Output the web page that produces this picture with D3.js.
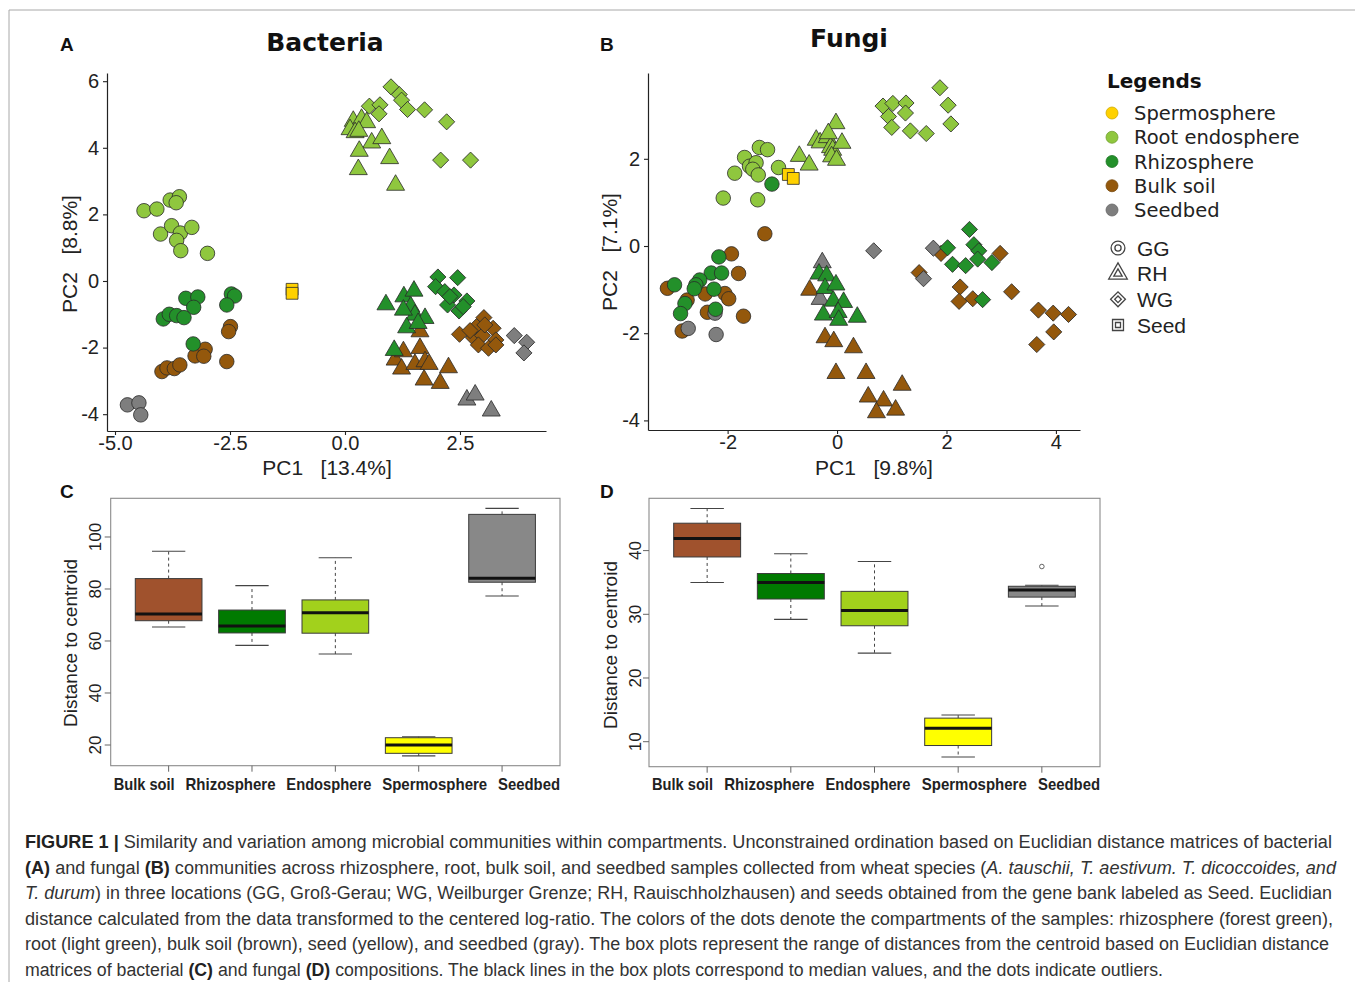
<!DOCTYPE html>
<html><head><meta charset="utf-8">
<script src="https://cdn.jsdelivr.net/npm/d3@7"></script>
<style>body{margin:0;background:#fff}svg{display:block}</style>
</head><body>
<svg id="fig" width="1355" height="982"></svg>
<script>
// ---------------- DATA ----------------
const compartments = ["Spermosphere","Root endosphere","Rhizosphere","Bulk soil","Seedbed"];
const sites = ["GG","RH","WG","Seed"];

// Panel A (Bacteria) PCA coordinates [PC1, PC2]
const bacSperm_Seed = [[-1.15,-0.25],[-1.15,-0.37]];
const bacRoot_GG = [[-4.37,2.11],[-4.09,2.16],[-3.80,2.43],[-3.60,2.53],[-3.67,2.35],[-4.01,1.41],[-3.77,1.66],[-3.58,1.44],[-3.66,1.22],[-3.33,1.61],[-3.57,0.91],[-2.99,0.83]];
const bacRhizo_GG = [[-3.46,-0.52],[-3.20,-0.48],[-3.29,-0.79],[-3.95,-1.14],[-3.82,-1.00],[-3.66,-1.04],[-3.50,-1.10],[-2.47,-0.39],[-2.40,-0.45],[-2.57,-0.72],[-3.30,-1.89]];
const bacBulk_GG = [[-2.49,-1.37],[-2.53,-1.52],[-3.98,-2.72],[-3.87,-2.61],[-3.71,-2.63],[-3.59,-2.52],[-3.26,-2.25],[-3.04,-2.05],[-3.07,-2.26],[-2.57,-2.42]];
const bacSeedbed_GG = [[-4.73,-3.72],[-4.48,-3.66],[-4.44,-4.02]];
const bacRoot_RH = [[0.18,4.80],[0.36,4.86],[0.47,4.76],[0.11,4.55],[0.22,4.46],[0.30,4.50],[0.58,4.15],[0.80,4.28],[0.31,3.90],[0.97,3.68],[0.29,3.35],[1.10,2.88]];
const bacRhizo_RH = [[0.89,-0.71],[1.28,-0.47],[1.50,-0.30],[1.43,-0.77],[1.52,-1.02],[1.74,-1.12],[1.34,-1.40],[1.59,-1.27],[1.07,-2.08],[1.27,-0.87]];
const bacBulk_RH = [[1.63,-1.52],[1.09,-2.37],[1.27,-2.12],[1.23,-2.64],[1.52,-2.50],[1.63,-2.02],[1.74,-2.42],[1.83,-2.50],[2.25,-2.60],[1.72,-2.97],[2.07,-3.07]];
const bacSeedbed_RH = [[2.65,-3.57],[2.83,-3.42],[3.18,-3.90]];
const bacRoot_WG = [[1.00,5.83],[1.18,5.60],[1.23,5.43],[1.36,5.15],[1.73,5.14],[2.21,4.78],[0.53,5.25],[0.76,5.29],[0.74,5.02],[2.08,3.63],[2.73,3.63]];
const bacRhizo_WG = [[2.02,0.12],[2.45,0.10],[1.97,-0.17],[2.17,-0.32],[2.37,-0.42],[2.23,-0.72],[2.48,-0.90],[2.65,-0.60],[2.28,-0.47],[2.57,-0.77]];
const bacBulk_WG = [[3.02,-1.10],[2.49,-1.60],[2.86,-1.37],[3.22,-1.42],[2.79,-1.70],[2.99,-1.64],[3.28,-1.77],[2.90,-1.92],[3.12,-2.02],[3.28,-1.92],[3.04,-1.32],[2.72,-1.49]];
const bacSeedbed_WG = [[3.68,-1.64],[3.95,-1.84],[3.89,-2.16]];

// Panel B (Fungi) PCA coordinates [PC1, PC2]
const funSperm_Seed = [[-0.89,1.64],[-0.80,1.55]];
const funRoot_GG = [[-1.42,2.26],[-1.27,2.21],[-1.69,2.03],[-1.60,1.83],[-1.48,1.91],[-1.54,1.76],[-1.44,1.63],[-1.87,1.67],[-1.07,1.80],[-2.08,1.10],[-1.45,1.06]];
const funRhizo_GG = [[-1.19,1.42],[-2.16,-0.25],[-2.30,-0.62],[-2.11,-0.62],[-2.51,-0.78],[-2.58,-0.89],[-2.61,-0.98],[-2.25,-0.99],[-2.97,-0.89],[-2.78,-1.32],[-2.86,-1.55],[-2.22,-1.45]];
const funBulk_GG = [[-1.32,0.28],[-1.93,-0.18],[-1.80,-0.63],[-3.10,-0.97],[-2.74,-1.24],[-2.41,-1.10],[-2.05,-1.09],[-1.98,-1.21],[-2.37,-1.52],[-1.71,-1.61],[-2.83,-1.95]];
const funSeedbed_GG = [[-2.72,-1.89],[-2.23,-1.54],[-2.21,-2.03]];
const funRoot_RH = [[-0.69,2.06],[-0.51,1.86],[-0.38,2.43],[-0.31,2.37],[-0.18,2.49],[-0.02,2.81],[-0.12,2.26],[-0.08,2.20],[0.09,2.36],[-0.10,2.05],[-0.01,1.97],[-0.16,2.58]];
const funRhizo_RH = [[-0.33,-0.64],[-0.19,-0.68],[-0.22,-0.97],[-0.02,-0.89],[-0.07,-1.26],[0.12,-1.29],[-0.25,-1.58],[0.02,-1.52],[0.03,-1.70],[0.37,-1.63]];
const funBulk_RH = [[-0.50,-1.01],[-0.22,-2.10],[-0.06,-2.19],[0.30,-2.33],[-0.02,-2.92],[0.53,-2.92],[0.57,-3.46],[0.85,-3.55],[0.72,-3.82],[1.07,-3.76],[1.19,-3.19]];
const funSeedbed_RH = [[-0.27,-0.38],[-0.31,-1.22]];
const funRoot_WG = [[0.84,3.21],[1.02,3.27],[1.26,3.28],[1.25,3.05],[0.94,2.97],[1.00,2.72],[1.34,2.64],[1.63,2.58],[1.88,3.63],[2.03,3.23],[2.08,2.80]];
const funRhizo_WG = [[2.42,0.38],[2.02,-0.04],[2.50,0.03],[2.59,-0.11],[2.57,-0.30],[2.11,-0.42],[2.35,-0.45],[2.83,-0.38],[2.66,-1.23]];
const funBulk_WG = [[1.90,-0.17],[2.98,-0.17],[1.50,-0.61],[2.25,-0.94],[2.23,-1.27],[2.48,-1.21],[3.19,-1.05],[3.68,-1.47],[3.95,-1.54],[4.23,-1.57],[3.96,-1.97],[3.65,-2.26]];
const funSeedbed_WG = [[0.67,-0.11],[1.76,-0.05],[1.58,-0.75]];

// Axis ticks
const bacXTicks = [-5.0,-2.5,0.0,2.5];
const bacYTicks = [-4,-2,0,2,4,6];
const funXTicks = [-2,0,2,4];
const funYTicks = [-4,-2,0,2];

// Box plots (distance to centroid)
const boxCats = ["Bulk soil","Rhizosphere","Endosphere","Spermosphere","Seedbed"];
const bacLo  = [65.4, 58.3, 55.0, 15.8, 77.3];
const bacQ1  = [67.8, 63.1, 63.0, 16.8, 82.6];
const bacMed = [70.4, 65.8, 70.9, 20.0, 84.1];
const bacQ3  = [84.0, 71.9, 75.8, 22.8, 108.7];
const bacHi  = [94.5, 81.3, 92.0, 23.2, 111.0];
const bacOut = [];
const funLo  = [35.0, 29.2, 23.9, 7.6, 31.3];
const funQ1  = [39.0, 32.4, 28.2, 9.4, 32.7];
const funMed = [41.9, 35.0, 30.6, 12.1, 33.8];
const funQ3  = [44.3, 36.4, 33.6, 13.7, 34.4];
const funHi  = [46.6, 39.5, 38.3, 14.2, 34.55];
const funOut = [["Seedbed", 37.5]];
const bacBoxTicks = [20,40,60,80,100];
const funBoxTicks = [10,20,30,40];

// ---------------- STYLE ----------------
const colorBy = {"Spermosphere":"#FFD100","Root endosphere":"#8FC73E","Rhizosphere":"#23902A","Bulk soil":"#94580C","Seedbed":"#7E7E7E"};
const boxColor = {"Bulk soil":"#A0522D","Rhizosphere":"#007A00","Endosphere":"#A2D11C","Spermosphere":"#FFFF00","Seedbed":"#888888"};
const shapeBy = {GG:d3.symbolCircle, RH:d3.symbolTriangle, WG:d3.symbolSquare, Seed:d3.symbolSquare};
const sizeBy = {GG:165, RH:140, WG:130, Seed:140};
const catLabelW = {"Bulk soil":61, "Rhizosphere":90, "Endosphere":85, "Spermosphere":105, "Seedbed":62};
const SANS = "'Liberation Sans', Arial, sans-serif";
const NARROW = "'Liberation Sans Narrow', 'Liberation Sans', Arial, sans-serif";
const VERD = "'DejaVu Sans', Verdana, sans-serif";

const svg = d3.select("#fig");

// outer frame
svg.append("path").attr("d","M9,982V10H1355").attr("fill","none").attr("stroke","#a8a8a8").attr("stroke-width",1);

function panelLetter(t,x,y){
  svg.append("text").attr("x",x).attr("y",y).text(t)
    .attr("font-family",SANS).attr("font-weight","bold").attr("font-size",19).attr("fill","#111");
}
panelLetter("A",60,51); panelLetter("B",600,51); panelLetter("C",60,498); panelLetter("D",600,498);

function scatterPanel(opts){
  const {xs, ys, xt, yt, xfmt, groups, xlab, ylab, ylabX, ylabY, xlabX, title, titleX, titleY} = opts;
  const g = svg.append("g");
  const ax = g.append("g").attr("transform",`translate(0,${ys.range()[0]})`)
    .call(d3.axisBottom(xs).tickValues(xt).tickFormat(xfmt).tickSize(4).tickSizeOuter(0).tickPadding(1));
  const ay = g.append("g").attr("transform",`translate(${xs.range()[0]},0)`)
    .call(d3.axisLeft(ys).tickValues(yt).tickFormat(d=>String(d)).tickSize(4).tickSizeOuter(0).tickPadding(4));
  [ax,ay].forEach(a=>{
    a.select(".domain").attr("stroke","#222").attr("stroke-width",1.2);
    a.selectAll(".tick line").attr("stroke","#222").attr("stroke-width",1.1);
    a.selectAll(".tick text").attr("font-family",SANS).attr("font-size",20).attr("fill","#222");
  });
  groups.forEach(gr=>{
    g.append("g").selectAll("path").data(gr.pts).join("path")
      .attr("transform", d=>`translate(${xs(d[0])},${ys(d[1])})` + (gr.site==="WG"?" rotate(45)":""))
      .attr("d", d3.symbol(shapeBy[gr.site], sizeBy[gr.site]))
      .attr("fill", colorBy[gr.comp]).attr("stroke","#2a2a2a").attr("stroke-width",0.8);
  });
  g.append("text").attr("x",xlabX).attr("y",475).attr("text-anchor","middle")
    .style("white-space","pre").attr("font-family",SANS).attr("font-size",21).attr("fill","#222").text(xlab);
  g.append("text").attr("transform",`translate(${ylabX},${ylabY}) rotate(-90)`).attr("text-anchor","middle")
    .style("white-space","pre").attr("font-family",SANS).attr("font-size",21).attr("fill","#222").text(ylab);
  g.append("text").attr("x",titleX).attr("y",titleY).attr("text-anchor","middle")
    .attr("font-family",VERD).attr("font-weight","bold").attr("font-size",25).attr("fill","#111").text(title);
}

const xA = d3.scaleLinear().domain([-5.174, 4.37]).range([107, 546]);
const yA = d3.scaleLinear().domain([-4.505, 6.246]).range([431, 73]);
scatterPanel({xs:xA, ys:yA, xt:bacXTicks, yt:bacYTicks, xfmt:d=>d.toFixed(1),
  groups:[
    {pts:bacBulk_GG, comp:"Bulk soil", site:"GG"},
    {pts:bacBulk_RH, comp:"Bulk soil", site:"RH"},
    {pts:bacBulk_WG, comp:"Bulk soil", site:"WG"},
    {pts:bacSeedbed_GG, comp:"Seedbed", site:"GG"},
    {pts:bacSeedbed_RH, comp:"Seedbed", site:"RH"},
    {pts:bacSeedbed_WG, comp:"Seedbed", site:"WG"},
    {pts:bacRhizo_GG, comp:"Rhizosphere", site:"GG"},
    {pts:bacRhizo_RH, comp:"Rhizosphere", site:"RH"},
    {pts:bacRhizo_WG, comp:"Rhizosphere", site:"WG"},
    {pts:bacRoot_GG, comp:"Root endosphere", site:"GG"},
    {pts:bacRoot_RH, comp:"Root endosphere", site:"RH"},
    {pts:bacRoot_WG, comp:"Root endosphere", site:"WG"},
    {pts:bacSperm_Seed, comp:"Spermosphere", site:"Seed"}
  ],
  xlab:"PC1   [13.4%]", xlabX:327, ylab:"PC2   [8.8%]", ylabX:77, ylabY:254,
  title:"Bacteria", titleX:325, titleY:51});

const xB = d3.scaleLinear().domain([-3.455, 4.44]).range([648, 1080]);
const yB = d3.scaleLinear().domain([-4.22, 3.968]).range([430, 73]);
scatterPanel({xs:xB, ys:yB, xt:funXTicks, yt:funYTicks, xfmt:d=>String(d),
  groups:[
    {pts:funBulk_GG, comp:"Bulk soil", site:"GG"},
    {pts:funBulk_RH, comp:"Bulk soil", site:"RH"},
    {pts:funBulk_WG, comp:"Bulk soil", site:"WG"},
    {pts:funSeedbed_GG, comp:"Seedbed", site:"GG"},
    {pts:funSeedbed_RH, comp:"Seedbed", site:"RH"},
    {pts:funSeedbed_WG, comp:"Seedbed", site:"WG"},
    {pts:funRhizo_GG, comp:"Rhizosphere", site:"GG"},
    {pts:funRhizo_RH, comp:"Rhizosphere", site:"RH"},
    {pts:funRhizo_WG, comp:"Rhizosphere", site:"WG"},
    {pts:funRoot_GG, comp:"Root endosphere", site:"GG"},
    {pts:funRoot_RH, comp:"Root endosphere", site:"RH"},
    {pts:funRoot_WG, comp:"Root endosphere", site:"WG"},
    {pts:funSperm_Seed, comp:"Spermosphere", site:"Seed"}
  ],
  xlab:"PC1   [9.8%]", xlabX:874, ylab:"PC2   [7.1%]", ylabX:617, ylabY:252,
  title:"Fungi", titleX:849, titleY:47});

// Legend
const lg = svg.append("g");
lg.append("text").attr("x",1107).attr("y",88).text("Legends")
  .attr("font-family",VERD).attr("font-weight","bold").attr("font-size",20).attr("fill","#111");
const legY = d3.scalePoint().domain(compartments).range([113,210]);
compartments.forEach(c=>{
  lg.append("circle").attr("cx",1112).attr("cy",legY(c)).attr("r",6)
    .attr("fill",colorBy[c]).attr("stroke",d3.color(colorBy[c]).darker(0.6)).attr("stroke-width",0.8);
  lg.append("text").attr("x",1134).attr("y",legY(c)).attr("dy","0.36em").text(c)
    .attr("font-family",VERD).attr("font-size",19.5).attr("fill","#222");
});
const shpY = d3.scalePoint().domain(sites).range([248,325]);
const shpOuter = {GG:150, RH:150, WG:110, Seed:120};
const shpInner = {GG:30, RH:30, WG:22, Seed:25};
sites.forEach(s=>{
  const tr = `translate(1118,${shpY(s)})` + (s==="WG"?" rotate(45)":"");
  [shpOuter[s], shpInner[s]].forEach(sz=>{
    lg.append("path").attr("transform",tr).attr("d",d3.symbol(shapeBy[s],sz))
      .attr("fill","none").attr("stroke","#444").attr("stroke-width",1.3);
  });
  lg.append("text").attr("x",1137).attr("y",shpY(s)).attr("dy","0.36em").text(s)
    .attr("font-family",SANS).attr("font-size",21).attr("fill","#222");
});

// Box plots
function boxPanel(opts){
  const {x0,x1,y0,y1,dom,ticks,lo,q1,med,q3,hi,out,ylabX,ylabY,tickX} = opts;
  const g = svg.append("g");
  const x = d3.scalePoint().domain(boxCats).range([x0,x1]).padding(0.695);
  const y = d3.scaleLinear().domain(dom).range([y1,y0]);
  const bw = x.step()*0.8;
  g.append("rect").attr("x",x0).attr("y",y0).attr("width",x1-x0).attr("height",y1-y0)
    .attr("fill","none").attr("stroke","#8a8a8a").attr("stroke-width",1.1);
  boxCats.forEach((c,i)=>{
    const cx = x(c);
    g.append("line").attr("x1",cx).attr("x2",cx).attr("y1",y(q3[i])).attr("y2",y(hi[i]))
      .attr("stroke","#444").attr("stroke-width",1).attr("stroke-dasharray","3,3");
    g.append("line").attr("x1",cx).attr("x2",cx).attr("y1",y(q1[i])).attr("y2",y(lo[i]))
      .attr("stroke","#444").attr("stroke-width",1).attr("stroke-dasharray","3,3");
    [hi[i],lo[i]].forEach(v=>{
      g.append("line").attr("x1",cx-bw/4).attr("x2",cx+bw/4).attr("y1",y(v)).attr("y2",y(v))
        .attr("stroke","#444").attr("stroke-width",1.1);
    });
    g.append("rect").attr("x",cx-bw/2).attr("y",y(q3[i])).attr("width",bw).attr("height",y(q1[i])-y(q3[i]))
      .attr("fill",boxColor[c]).attr("stroke","#3a3a3a").attr("stroke-width",1);
    g.append("line").attr("x1",cx-bw/2).attr("x2",cx+bw/2).attr("y1",y(med[i])).attr("y2",y(med[i]))
      .attr("stroke","#111").attr("stroke-width",3);
    g.append("line").attr("x1",cx).attr("x2",cx).attr("y1",y1).attr("y2",y1+6).attr("stroke","#666");
  });
  // category labels packed edge to edge under the frame
  const gap = ((x1-x0) - 3 - d3.sum(boxCats, c=>catLabelW[c])) / (boxCats.length-1);
  let lx = x0 + 3;
  boxCats.forEach(c=>{
    g.append("text").attr("x",lx).attr("y",790).text(c)
      .attr("textLength",catLabelW[c]).attr("lengthAdjust","spacingAndGlyphs")
      .attr("font-family",NARROW).attr("font-weight","bold").attr("font-size",17).attr("fill","#222");
    lx += catLabelW[c] + gap;
  });
  out.forEach(o=>{
    g.append("circle").attr("cx",x(o[0])).attr("cy",y(o[1])).attr("r",2.3)
      .attr("fill","none").attr("stroke","#555").attr("stroke-width",0.9);
  });
  ticks.forEach(t=>{
    g.append("line").attr("x1",x0).attr("x2",x0-6).attr("y1",y(t)).attr("y2",y(t)).attr("stroke","#666");
    g.append("text").attr("transform",`translate(${tickX},${y(t)}) rotate(-90)`).attr("text-anchor","middle")
      .attr("dy","0.36em").text(t).attr("font-family",SANS).attr("font-size",17).attr("fill","#222");
  });
  g.append("text").attr("transform",`translate(${ylabX},${ylabY}) rotate(-90)`).attr("text-anchor","middle")
    .attr("dy","0.36em").text("Distance to centroid").attr("font-family",SANS).attr("font-size",19).attr("fill","#222");
}
boxPanel({x0:110.7,x1:560,y0:498.3,y1:765.7,dom:[12.04,114.88],ticks:bacBoxTicks,
  lo:bacLo,q1:bacQ1,med:bacMed,q3:bacQ3,hi:bacHi,out:bacOut,ylabX:70,ylabY:643,tickX:95});
boxPanel({x0:649,x1:1100,y0:498.3,y1:766.7,dom:[6.075,48.21],ticks:funBoxTicks,
  lo:funLo,q1:funQ1,med:funMed,q3:funQ3,hi:funHi,out:funOut,ylabX:610,ylabY:645,tickX:635});

// Caption
const capLines = [
  {w:1307, parts:[["FIGURE 1 | ","b"],["Similarity and variation among microbial communities within compartments. Unconstrained ordination based on Euclidian distance matrices of bacterial",""]]},
  {w:1311, parts:[["(A)","b"],[" and fungal ",""],["(B)","b"],[" communities across rhizosphere, root, bulk soil, and seedbed samples collected from wheat species (",""],["A. tauschii, T. aestivum. T. dicoccoides, and","i"]]},
  {w:1307, parts:[["T. durum","i"],[") in three locations (GG, Groß-Gerau; WG, Weilburger Grenze; RH, Rauischholzhausen) and seeds obtained from the gene bank labeled as Seed. Euclidian",""]]},
  {w:1308, parts:[["distance calculated from the data transformed to the centered log-ratio. The colors of the dots denote the compartments of the samples: rhizosphere (forest green),",""]]},
  {w:1304, parts:[["root (light green), bulk soil (brown), seed (yellow), and seedbed (gray). The box plots represent the range of distances from the centroid based on Euclidian distance",""]]},
  {w:1138, parts:[["matrices of bacterial ",""],["(C)","b"],[" and fungal ",""],["(D)","b"],[" compositions. The black lines in the box plots correspond to median values, and the dots indicate outliers.",""]]}
];
const capY = d3.scaleLinear().domain([0,5]).range([848,975.5]);
capLines.forEach((ln,i)=>{
  const t = svg.append("text").attr("x",25).attr("y",capY(i))
    .attr("font-family",NARROW)
    .attr("font-size",18).attr("fill","#333").style("white-space","pre")
    .attr("textLength",ln.w).attr("lengthAdjust","spacingAndGlyphs");
  ln.parts.forEach(p=>{
    const s = t.append("tspan").text(p[0]);
    if(p[1]==="b") s.attr("font-weight","bold").attr("fill","#222");
    if(p[1]==="i") s.attr("font-style","italic");
  });
});
</script>
</body></html>
